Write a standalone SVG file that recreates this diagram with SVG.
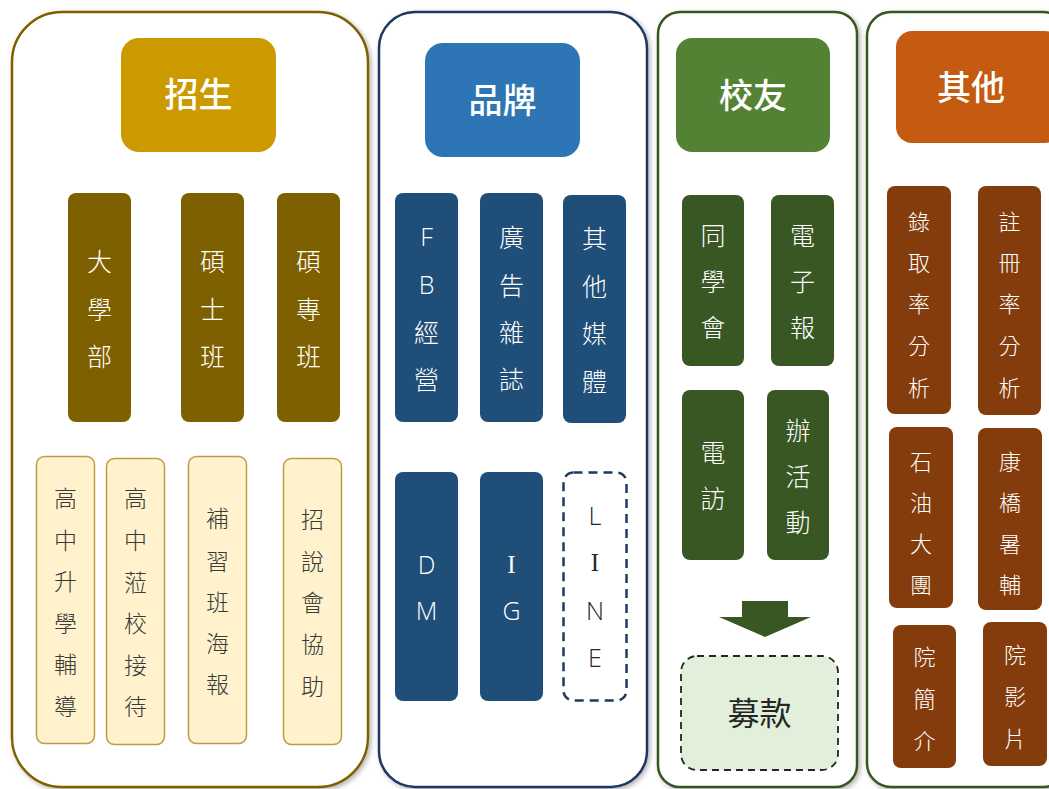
<svg xmlns="http://www.w3.org/2000/svg" width="1049" height="789" viewBox="0 0 1049 789">
<defs>
<filter id="sh" x="-10%" y="-10%" width="120%" height="120%">
<feDropShadow dx="2" dy="2" stdDeviation="2.5" flood-color="#000" flood-opacity="0.3"/>
</filter>
<style>
text{font-family:"Noto Sans CJK TC","Noto Sans CJK SC",sans-serif;text-anchor:middle;dominant-baseline:central}
.panel{fill:#fff;stroke-width:2.5;filter:url(#sh)}
.title{font-size:34px;font-weight:500;fill:#fff}
.w{fill:#fff;font-size:25px;font-weight:300}
.d{fill:#3a3a3a;font-size:23px;font-weight:300}
.o{fill:#fff;font-size:22px;font-weight:300}
.lat{font-family:"Open Sans","Noto Sans",sans-serif}
.ser{font-family:"Liberation Serif",serif}
.k{font-size:25px;fill:#262626;font-weight:300}
</style>
</defs>
<rect width="1049" height="789" fill="#fff"/>

<g id="panel-recruit">
<rect class="panel" x="12" y="12" width="356" height="775" rx="50" stroke="#7f6000"/>
<g id="recruit-title"><rect x="121" y="38" width="155" height="114" rx="18" fill="#cc9a00"/><text class="title" x="198.5" y="92">招生</text></g>
<g id="undergrad"><rect x="68" y="193" width="63" height="229" rx="8" fill="#7f6000"/><text class="w" x="99.5" y="260">大</text><text class="w" x="99.5" y="308">學</text><text class="w" x="99.5" y="355">部</text></g>
<g id="master"><rect x="181" y="193" width="63" height="229" rx="8" fill="#7f6000"/><text class="w" x="212.5" y="260">碩</text><text class="w" x="212.5" y="308">士</text><text class="w" x="212.5" y="355">班</text></g>
<g id="emba"><rect x="277" y="193" width="63" height="229" rx="8" fill="#7f6000"/><text class="w" x="308.5" y="260">碩</text><text class="w" x="308.5" y="308">專</text><text class="w" x="308.5" y="355">班</text></g>
<g id="hs-tutoring"><rect x="36.5" y="456.5" width="58" height="287" rx="8" fill="#fff2cc" stroke="#bf9b45" stroke-width="1.5"/><text class="d" x="65.5" y="497">高</text><text class="d" x="65.5" y="539">中</text><text class="d" x="65.5" y="580">升</text><text class="d" x="65.5" y="622">學</text><text class="d" x="65.5" y="663">輔</text><text class="d" x="65.5" y="705">導</text></g>
<g id="hs-visit"><rect x="106.5" y="458.5" width="58" height="286" rx="8" fill="#fff2cc" stroke="#bf9b45" stroke-width="1.5"/><text class="d" x="135.5" y="497">高</text><text class="d" x="135.5" y="539">中</text><text class="d" x="135.5" y="581">蒞</text><text class="d" x="135.5" y="622">校</text><text class="d" x="135.5" y="664">接</text><text class="d" x="135.5" y="705">待</text></g>
<g id="cram-poster"><rect x="188.5" y="456.5" width="58" height="287" rx="8" fill="#fff2cc" stroke="#bf9b45" stroke-width="1.5"/><text class="d" x="217.5" y="517">補</text><text class="d" x="217.5" y="560">習</text><text class="d" x="217.5" y="601">班</text><text class="d" x="217.5" y="642">海</text><text class="d" x="217.5" y="683">報</text></g>
<g id="info-session"><rect x="283.5" y="458.5" width="58" height="286" rx="8" fill="#fff2cc" stroke="#bf9b45" stroke-width="1.5"/><text class="d" x="312.5" y="518">招</text><text class="d" x="312.5" y="560">說</text><text class="d" x="312.5" y="601">會</text><text class="d" x="312.5" y="643">協</text><text class="d" x="312.5" y="685">助</text></g>
</g>

<g id="panel-brand">
<rect class="panel" x="379" y="12" width="268" height="775" rx="36" stroke="#1f3864"/>
<g id="brand-title"><rect x="425" y="43" width="155" height="114" rx="18" fill="#2e75b6"/><text class="title" x="502.5" y="98">品牌</text></g>
<g id="fb"><rect x="395" y="193" width="63" height="229" rx="8" fill="#1f4e79"/><text class="w lat" x="426.5" y="236">F</text><text class="w lat" x="426.5" y="284">B</text><text class="w" x="426.5" y="331">經</text><text class="w" x="426.5" y="378">營</text></g>
<g id="magazine"><rect x="480" y="193" width="63" height="229" rx="8" fill="#1f4e79"/><text class="w" x="511.5" y="236">廣</text><text class="w" x="511.5" y="284">告</text><text class="w" x="511.5" y="331">雜</text><text class="w" x="511.5" y="378">誌</text></g>
<g id="other-media"><rect x="563" y="195" width="63" height="228" rx="8" fill="#1f4e79"/><text class="w" x="594.5" y="237">其</text><text class="w" x="594.5" y="285">他</text><text class="w" x="594.5" y="332">媒</text><text class="w" x="594.5" y="380">體</text></g>
<g id="dm"><rect x="395" y="472" width="63" height="229" rx="8" fill="#1f4e79"/><text class="w lat" x="426.5" y="564">D</text><text class="w lat" x="426.5" y="610">M</text></g>
<g id="ig"><rect x="480" y="472" width="63" height="229" rx="8" fill="#1f4e79"/><text class="w ser" x="511.5" y="564">I</text><text class="w lat" x="511.5" y="610">G</text></g>
<g id="line"><rect x="563.5" y="472.5" width="63" height="228" rx="10" fill="#fff" stroke="#1f3864" stroke-width="2.5" stroke-dasharray="9 6"/><text class="k lat" x="595" y="515">L</text><text class="k ser" x="595" y="562">I</text><text class="k lat" x="595" y="610">N</text><text class="k lat" x="595" y="657">E</text></g>
</g>

<g id="panel-alumni">
<rect class="panel" x="658" y="12" width="199" height="775" rx="22" stroke="#385723"/>
<g id="alumni-title"><rect x="676" y="38" width="154" height="114" rx="16" fill="#548235"/><text class="title" x="753" y="93">校友</text></g>
<g id="association"><rect x="682" y="195" width="62" height="171" rx="8" fill="#385723"/><text class="w" x="713" y="234">同</text><text class="w" x="713" y="280">學</text><text class="w" x="713" y="326">會</text></g>
<g id="newsletter"><rect x="771" y="195" width="63" height="171" rx="8" fill="#385723"/><text class="w" x="802.5" y="234">電</text><text class="w" x="802.5" y="280">子</text><text class="w" x="802.5" y="326">報</text></g>
<g id="phone-visit"><rect x="682" y="390" width="62" height="170" rx="8" fill="#385723"/><text class="w" x="713" y="451">電</text><text class="w" x="713" y="497">訪</text></g>
<g id="events"><rect x="767" y="390" width="62" height="170" rx="8" fill="#385723"/><text class="w" x="798" y="429">辦</text><text class="w" x="798" y="475">活</text><text class="w" x="798" y="521">動</text></g>
<g id="fundraising"><rect x="681" y="656" width="157" height="114" rx="16" fill="#e2efda" stroke="#262626" stroke-width="1.8" stroke-dasharray="7 5"/><text x="759.5" y="711" style="font-size:32px;fill:#262626">募款</text></g>
</g>

<g id="connectors">
<polygon points="742,601 788,601 788,617 811,617 765,637 719,617 742,617" fill="#385723"/>
</g>

<g id="panel-other">
<rect class="panel" x="867" y="12" width="200" height="775" rx="24" stroke="#385723"/>
<g id="other-title"><rect x="896" y="31" width="165" height="112" rx="16" fill="#c55a11"/><text class="title" x="971" y="85">其他</text></g>
<g id="admission-rate"><rect x="887" y="186" width="64" height="228" rx="8" fill="#843c0c"/><text class="o" x="919" y="220">錄</text><text class="o" x="919" y="261">取</text><text class="o" x="919" y="302">率</text><text class="o" x="919" y="344">分</text><text class="o" x="919" y="386">析</text></g>
<g id="enroll-rate"><rect x="978" y="186" width="63" height="229" rx="8" fill="#843c0c"/><text class="o" x="1009.5" y="220">註</text><text class="o" x="1009.5" y="261">冊</text><text class="o" x="1009.5" y="302">率</text><text class="o" x="1009.5" y="344">分</text><text class="o" x="1009.5" y="386">析</text></g>
<g id="cpc-camp"><rect x="889" y="427" width="64" height="181" rx="8" fill="#843c0c"/><text class="o" x="921" y="460">石</text><text class="o" x="921" y="501">油</text><text class="o" x="921" y="542">大</text><text class="o" x="921" y="583">團</text></g>
<g id="kangchiao"><rect x="978" y="428" width="64" height="182" rx="8" fill="#843c0c"/><text class="o" x="1010" y="460">康</text><text class="o" x="1010" y="501">橋</text><text class="o" x="1010" y="542">暑</text><text class="o" x="1010" y="583">輔</text></g>
<g id="brochure"><rect x="893" y="625" width="63" height="143" rx="8" fill="#843c0c"/><text class="o" x="924.5" y="655">院</text><text class="o" x="924.5" y="697">簡</text><text class="o" x="924.5" y="739">介</text></g>
<g id="video"><rect x="983" y="622" width="64" height="144" rx="8" fill="#843c0c"/><text class="o" x="1015" y="653">院</text><text class="o" x="1015" y="695">影</text><text class="o" x="1015" y="737">片</text></g>
</g>
</svg>
